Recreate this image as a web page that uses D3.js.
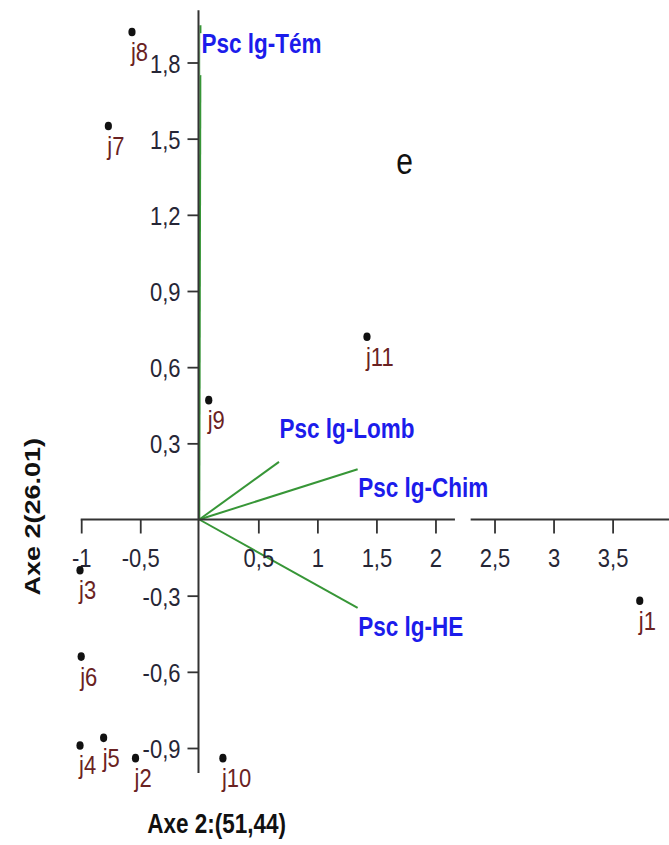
<!DOCTYPE html>
<html>
<head>
<meta charset="utf-8">
<script src="https://cdn.jsdelivr.net/npm/d3@7"></script>
<style>
  html, body { margin: 0; padding: 0; background: #fff; }
  svg { display: block; }
  text { font-family: "Liberation Sans", Arial, sans-serif; }
</style>
</head>
<body>
<svg id="chart" width="669" height="845"></svg>
<script>
// Individuals (projected scores on axes 1 and 2)
const categories = ["j1", "j2", "j3", "j4", "j5", "j6", "j7", "j8", "j9", "j10", "j11"];
const pointX = [3.73, -0.54, -1.01, -1.01, -0.81, -1.00, -0.77, -0.57, 0.08, 0.20, 1.42];
const pointY = [-0.32, -0.94, -0.20, -0.89, -0.86, -0.54, 1.55, 1.92, 0.47, -0.94, 0.72];

// Variables (loading vectors)
const variables = ["Psc lg-Tém", "Psc lg-Lomb", "Psc lg-Chim", "Psc lg-HE"];
const varX = [0.01, 0.675, 1.341, 1.341];
const varY = [1.947, 0.227, 0.198, -0.348];

// Axis ticks
const xTicks = [-1, -0.5, 0.5, 1, 1.5, 2, 2.5, 3, 3.5];
const yTicks = [1.8, 1.5, 1.2, 0.9, 0.6, 0.3, -0.3, -0.6, -0.9];
const xTitle = "Axe 2:(51,44)";
const yTitle = "Axe 2(26.01)";
const panelTag = "e";

const W = 669, H = 845;
const SY = 1.2; // vertical stretch applied to the lettering

const svg = d3.select("#chart");
const x = d3.scaleLinear().domain([-1, 3.5]).range([81.2, 612.6]);
const y = d3.scaleLinear().domain([-0.9, 1.8]).range([748.0, 62.5]);

const fmt = d => String(d).replace(".", ",");
const axisColor = "#333";
const green = "#379637";
const blue = "#1c1ceb";

function place(sel, px, py) {
  sel.attr("x", 0).attr("y", 0).attr("dy", null)
     .attr("transform", `translate(${px},${py}) scale(1,${SY})`);
}

// ---- loading vectors (drawn under the axes) ----
const vec = svg.append("g");
variables.forEach((name, i) => {
  vec.append("line")
    .attr("x1", x(0)).attr("y1", y(0))
    .attr("x2", x(varX[i])).attr("y2", y(varY[i]))
    .attr("stroke", green).attr("stroke-width", 2);
});

// white box behind the top vector's label
const topIdx = 0;
vec.append("rect")
  .attr("x", x(varX[topIdx]) - 0.3).attr("y", y(varY[topIdx]) + 8)
  .attr("width", 125).attr("height", 42)
  .attr("fill", "#fff");

// label set above its arrow tip for Lomb, below for the others
const labelAbove = new Set(["Psc lg-Lomb"]);
variables.forEach((name, i) => {
  const t = vec.append("text")
    .text(name)
    .attr("fill", blue)
    .attr("font-weight", "bold")
    .attr("font-size", 22.5);
  const px = x(varX[i]) + (i === topIdx ? 1 : 0.5);
  const py = labelAbove.has(name) ? y(varY[i]) - 24 : y(varY[i]) + 28;
  place(t, px, py);
});

// ---- axes ----
const xAxisG = svg.append("g").attr("transform", `translate(0,${y(0)})`);
xAxisG.call(d3.axisBottom(x).tickValues(xTicks).tickFormat(fmt).tickSize(14).tickSizeOuter(0));
xAxisG.select(".domain").remove();
xAxisG.selectAll(".tick line").attr("stroke", axisColor).attr("stroke-width", 1.8);
xAxisG.selectAll(".tick text")
  .attr("font-size", 22).attr("font-family", "Liberation Sans, Arial, sans-serif")
  .attr("fill", "#262636")
  .each(function () { place(d3.select(this), 0, 47); });

// horizontal axis line with its break
const xBreak = [2.165, 2.298];
xAxisG.append("line").attr("x1", x(-1) - 0.5).attr("x2", x(xBreak[0])).attr("y1", 0).attr("y2", 0)
  .attr("stroke", axisColor).attr("stroke-width", 2);
xAxisG.append("line").attr("x1", x(xBreak[1])).attr("x2", W).attr("y1", 0).attr("y2", 0)
  .attr("stroke", axisColor).attr("stroke-width", 2);

const yAxisG = svg.append("g").attr("transform", `translate(${x(0) - 0.8},0)`);
yAxisG.call(d3.axisLeft(y).tickValues(yTicks).tickFormat(fmt).tickSize(11).tickSizeOuter(0));
yAxisG.select(".domain").remove();
yAxisG.selectAll(".tick line").attr("stroke", axisColor).attr("stroke-width", 1.8);
yAxisG.selectAll(".tick text")
  .attr("font-size", 22).attr("font-family", "Liberation Sans, Arial, sans-serif")
  .attr("fill", "#262636")
  .attr("text-anchor", "end")
  .each(function () { place(d3.select(this), -18, 9.5); });
yAxisG.append("line").attr("x1", 0).attr("x2", 0)
  .attr("y1", y(2.006)).attr("y2", y(-0.998))
  .attr("stroke", axisColor).attr("stroke-width", 2);

// ---- individuals ----
const pts = svg.append("g");
categories.forEach((c, i) => {
  const cx = x(pointX[i]), cy = y(pointY[i]);
  pts.append("ellipse").attr("cx", cx).attr("cy", cy)
    .attr("rx", 3.6).attr("ry", 4.3).attr("fill", "#111");
  const t = pts.append("text").text(c)
    .attr("font-size", 22).attr("fill", "#6a2222");
  place(t, cx - 1, cy + 29);
});

// ---- titles ----
const xt = svg.append("text").text(xTitle)
  .attr("font-weight", "bold").attr("font-size", 22.5)
  .attr("text-anchor", "middle").attr("fill", "#111");
place(xt, 216.7, 833);

svg.append("text").text(yTitle)
  .attr("font-weight", "bold").attr("font-size", 22.5)
  .attr("text-anchor", "middle").attr("fill", "#111")
  .attr("transform", `translate(40,516.7) rotate(-90) scale(${SY},1)`);

const tag = svg.append("text").text(panelTag)
  .attr("font-size", 30).attr("text-anchor", "middle").attr("fill", "#111");
place(tag, 404.5, 174);
</script>
</body>
</html>
